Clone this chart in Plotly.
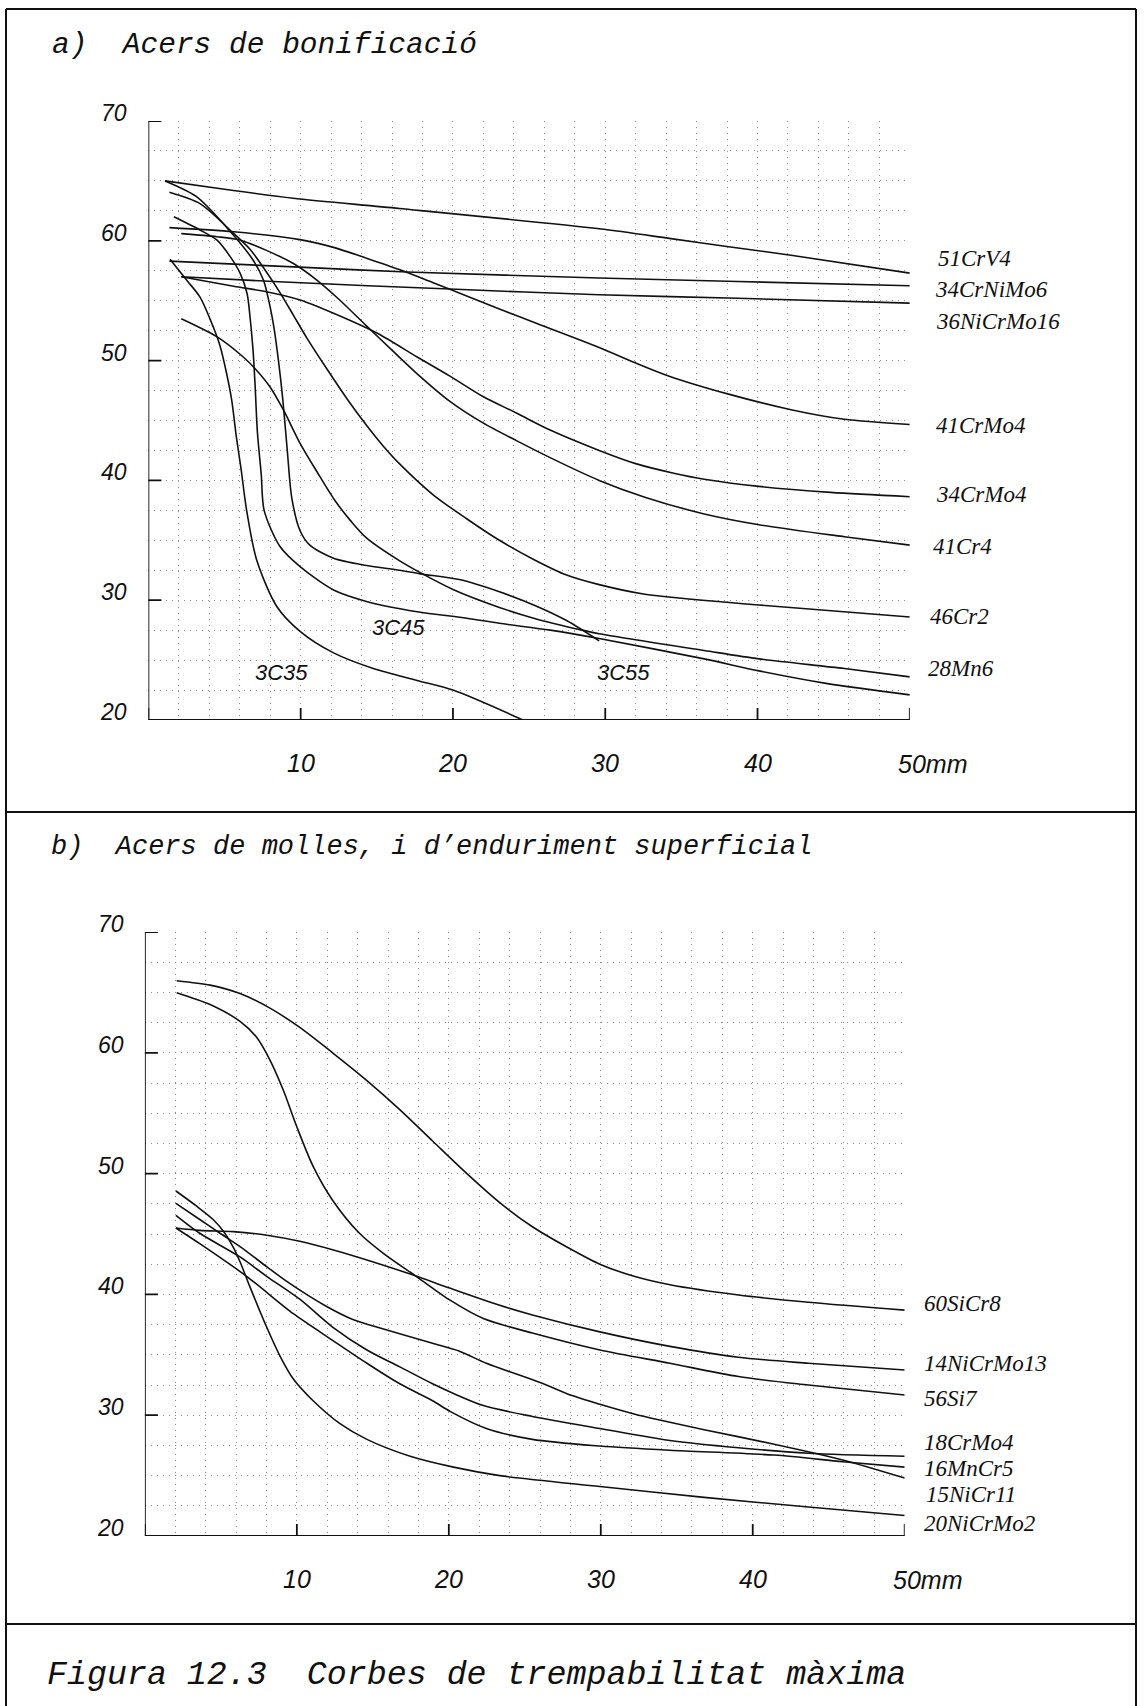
import plotly.graph_objects as go

W, H = 1145, 1706

# ---------------- panel a: Acers de bonificació (x = distance mm, y = HRC) ----------------
a_51CrV4_x = [1.09, 5.0, 9.5, 16.48, 29.6, 34.2, 38.1, 42.2, 50.0]
a_51CrV4_y = [65.0, 64.3, 63.55, 62.7, 61.0, 60.2, 59.5, 58.8, 57.3]

a_34CrNiMo6_x = [1.38, 9.9, 17.0, 29.6, 38.7, 50.0]
a_34CrNiMo6_y = [58.3, 57.8, 57.4, 56.9, 56.6, 56.25]

a_36NiCrMo16_x = [2.16, 8.2, 20.2, 29.6, 38.7, 50.0]
a_36NiCrMo16_y = [57.0, 56.6, 55.95, 55.5, 55.2, 54.8]

a_41CrMo4_x = [1.38, 5.6, 9.96, 12.16, 14.32, 16.48, 18.7, 20.9, 23.05, 25.3, 29.6, 32.0, 34.2, 38.1, 42.2, 45.7, 50.0]
a_41CrMo4_y = [61.1, 60.75, 60.1, 59.45, 58.55, 57.6, 56.5, 55.4, 54.3, 53.2, 51.1, 49.8, 48.7, 47.2, 45.9, 45.1, 44.67]

a_34CrMo4_x = [2.16, 5.6, 7.75, 9.96, 12.16, 15.0, 17.65, 19.8, 21.97, 24.2, 26.38, 29.6, 32.0, 34.5, 36.5, 40.1, 44.8, 50.0]
a_34CrMo4_y = [57.0, 56.2, 55.75, 55.06, 53.95, 52.3, 50.3, 48.7, 47.0, 45.6, 44.2, 42.5, 41.4, 40.6, 40.1, 39.5, 39.0, 38.64]

a_41Cr4_x = [2.16, 4.5, 5.99, 7.75, 9.52, 11.08, 12.56, 14.32, 15.89, 17.65, 19.8, 21.97, 24.2, 26.38, 29.6, 32.6, 36.5, 40.1, 45.7, 50.0]
a_41Cr4_y = [60.6, 60.34, 60.07, 59.2, 58.1, 56.7, 55.06, 52.9, 51.0, 48.9, 46.6, 44.8, 43.3, 41.9, 40.0, 38.6, 37.2, 36.3, 35.3, 34.6]

a_46Cr2_x = [1.38, 3.39, 5.36, 6.67, 7.75, 8.63, 9.52, 10.4, 11.67, 13.05, 14.32, 15.4, 16.48, 18.7, 20.9, 23.05, 25.3, 27.46, 29.6, 32.6, 40.1, 50.0]
a_46Cr2_y = [64.05, 63.1, 60.9, 59.3, 57.4, 55.7, 53.8, 51.9, 49.4, 46.8, 44.6, 42.9, 41.4, 38.8, 36.8, 35.0, 33.4, 32.1, 31.3, 30.5, 29.6, 28.6]

a_28Mn6_x = [2.16, 4.49, 6.23, 7.1, 7.99, 8.86, 9.96, 11.08, 12.26, 13.3, 14.32, 16.48, 17.85, 20.0, 23.05, 25.3, 28.5, 29.6, 36.5, 40.1, 45.7, 50.0]
a_28Mn6_y = [53.5, 52.0, 50.3, 49.2, 47.8, 45.9, 43.1, 40.7, 38.3, 36.6, 35.2, 33.3, 32.3, 30.9, 29.4, 28.5, 27.5, 27.2, 25.8, 25.1, 24.3, 23.6]

a_3C55_x = [1.09, 3.14, 5.36, 6.87, 7.56, 7.99, 8.24, 8.54, 8.83, 9.12, 9.42, 9.96, 10.6, 12.16, 14.32, 16.48, 17.85, 20.5, 23.05, 25.3, 27.46, 29.6]
a_3C55_y = [65.0, 63.7, 60.8, 58.4, 56.7, 54.5, 52.8, 50.0, 46.7, 42.5, 38.5, 35.8, 34.6, 33.5, 32.9, 32.5, 32.2, 31.7, 30.7, 29.6, 28.3, 26.6]

a_3C45_x = [1.67, 3.39, 4.49, 5.36, 6.02, 6.48, 6.67, 6.87, 7.0, 7.16, 7.41, 7.6, 8.63, 9.96, 12.16, 14.32, 17.65, 20.9, 23.05, 26.38, 29.6, 36.5, 40.1, 44.5, 50.0]
a_3C45_y = [62.0, 60.9, 60.07, 58.7, 57.3, 55.6, 53.7, 50.9, 48.1, 44.0, 40.5, 37.5, 34.5, 32.8, 30.85, 29.9, 29.04, 28.5, 28.07, 27.5, 26.8, 25.1, 24.1, 23.06, 22.1]

a_3C35_x = [1.42, 2.52, 3.39, 4.26, 4.71, 5.14, 5.47, 5.79, 6.08, 6.45, 7.1, 8.42, 9.96, 12.16, 14.77, 17.65, 20.0, 24.6]
a_3C35_y = [58.45, 56.7, 55.3, 52.8, 51.2, 48.9, 46.7, 43.5, 41.0, 37.5, 33.4, 29.5, 27.4, 25.6, 24.3, 23.3, 22.5, 20.0]

a_label_names = ["51CrV4", "34CrNiMo6", "36NiCrMo16", "41CrMo4", "34CrMo4", "41Cr4", "46Cr2", "28Mn6"]
a_label_y = [58.5, 55.9, 53.25, 44.6, 38.8, 34.5, 28.6, 24.3]
a_inline_names = ["3C35", "3C45", "3C55"]
a_inline_x = [8.75, 16.4, 31.2]
a_inline_y = [24.0, 27.7, 24.0]

# ---------------- panel b: Acers de molles, i d'enduriment superficial ----------------
b_60SiCr8_x = [2.09, 4.29, 6.26, 8.23, 10.19, 12.35, 14.61, 16.77, 18.93, 21.19, 23.35, 25.5, 27.8, 29.94, 32.19, 34.55, 39.06, 43.66, 50.0]
b_60SiCr8_y = [65.97, 65.6, 64.9, 63.7, 62.1, 60.0, 57.7, 55.3, 52.7, 50.0, 47.6, 45.6, 43.9, 42.5, 41.5, 40.8, 39.95, 39.35, 38.7]

b_56Si7_x = [2.09, 4.29, 6.26, 7.34, 8.23, 9.11, 9.99, 11.07, 12.35, 14.12, 15.69, 17.85, 20.11, 22.27, 25.5, 29.94, 34.55, 39.06, 43.66, 50.0]
b_56Si7_y = [64.98, 64.0, 62.6, 61.3, 59.4, 56.9, 53.9, 50.6, 47.8, 45.06, 43.4, 41.5, 39.5, 38.0, 36.8, 35.4, 34.3, 33.2, 32.5, 31.67]

b_14NiCrMo13_x = [2.04, 3.61, 5.82, 8.03, 10.19, 12.35, 14.61, 17.66, 20.11, 23.35, 25.5, 29.94, 34.55, 39.06, 43.66, 50.0]
b_14NiCrMo13_y = [45.5, 45.3, 45.2, 44.9, 44.4, 43.7, 42.85, 41.6, 40.5, 39.1, 38.3, 36.9, 35.7, 34.8, 34.3, 33.74]

b_20NiCrMo2_x = [2.04, 3.41, 4.49, 5.18, 5.82, 6.26, 6.92, 8.01, 8.89, 9.77, 11.07, 12.84, 14.61, 17.46, 20.31, 23.35, 29.94, 36.8, 43.66, 50.0]
b_20NiCrMo2_y = [48.56, 47.3, 46.2, 45.2, 43.9, 42.7, 40.6, 37.3, 34.9, 33.0, 31.2, 29.3, 28.0, 26.6, 25.7, 25.0, 24.1, 23.2, 22.4, 21.7]

b_15NiCr11_x = [2.04, 3.61, 4.94, 6.26, 8.01, 9.31, 11.96, 13.73, 15.25, 18.93, 20.7, 22.47, 26.01, 28.17, 29.94, 32.19, 36.8, 41.41, 45.92, 50.0]
b_15NiCr11_y = [47.54, 46.2, 45.06, 43.95, 42.3, 41.1, 39.0, 37.9, 37.3, 35.95, 35.3, 34.3, 32.7, 31.6, 30.9, 30.1, 28.8, 27.6, 26.3, 24.8]

b_18CrMo4_x = [2.04, 3.61, 6.26, 8.01, 10.19, 12.35, 14.61, 16.77, 18.93, 20.31, 22.27, 25.5, 29.94, 34.55, 39.06, 43.66, 50.0]
b_18CrMo4_y = [46.55, 45.06, 43.1, 41.5, 39.6, 37.3, 35.4, 34.0, 32.6, 31.8, 30.8, 29.9, 28.9, 27.9, 27.3, 26.85, 26.6]

b_16MnCr5_x = [2.04, 3.61, 6.69, 9.77, 12.35, 14.61, 16.77, 18.93, 20.11, 22.47, 25.5, 29.94, 34.55, 41.41, 45.92, 50.0]
b_16MnCr5_y = [45.5, 44.2, 41.5, 38.4, 36.2, 34.3, 32.6, 31.2, 30.3, 28.9, 28.0, 27.45, 27.1, 26.7, 26.15, 25.7]

b_label_names = ["60SiCr8", "14NiCrMo13", "56Si7", "18CrMo4", "16MnCr5", "15NiCr11", "20NiCrMo2"]
b_label_y = [39.26, 34.3, 31.4, 27.7, 25.6, 23.4, 21.05]

# ---------------- axes ticks / texts ----------------
y_tick_vals = [20, 30, 40, 50, 60, 70]
x_tick_vals = [10, 20, 30, 40, 50]
x_tick_text = ["10", "20", "30", "40", "50mm"]
x_tick_marks = [0, 10, 20, 30, 40, 50]

title_a = "a)\u00a0\u00a0Acers de bonificació"
title_b = "b)\u00a0\u00a0Acers de molles, i d’enduriment superficial"
caption = "Figura 12.3\u00a0\u00a0Corbes de trempabilitat màxima"

panel_a_series = [
    (a_51CrV4_x, a_51CrV4_y, "51CrV4"), (a_34CrNiMo6_x, a_34CrNiMo6_y, "34CrNiMo6"),
    (a_36NiCrMo16_x, a_36NiCrMo16_y, "36NiCrMo16"), (a_41CrMo4_x, a_41CrMo4_y, "41CrMo4"),
    (a_34CrMo4_x, a_34CrMo4_y, "34CrMo4"), (a_41Cr4_x, a_41Cr4_y, "41Cr4"),
    (a_46Cr2_x, a_46Cr2_y, "46Cr2"), (a_28Mn6_x, a_28Mn6_y, "28Mn6"),
    (a_3C55_x, a_3C55_y, "3C55"), (a_3C45_x, a_3C45_y, "3C45"), (a_3C35_x, a_3C35_y, "3C35"),
]
panel_b_series = [
    (b_60SiCr8_x, b_60SiCr8_y, "60SiCr8"), (b_56Si7_x, b_56Si7_y, "56Si7"),
    (b_14NiCrMo13_x, b_14NiCrMo13_y, "14NiCrMo13"), (b_20NiCrMo2_x, b_20NiCrMo2_y, "20NiCrMo2"),
    (b_15NiCr11_x, b_15NiCr11_y, "15NiCr11"), (b_18CrMo4_x, b_18CrMo4_y, "18CrMo4"),
    (b_16MnCr5_x, b_16MnCr5_y, "16MnCr5"),
]

# ---------------- styles / placement ----------------
INK = "#111111"
MONO = "Liberation Mono"
TICK_FONT = dict(family="Liberation Sans", size=23, color=INK, style="italic")
XTICK_FONT = dict(family="Liberation Sans", size=25, color=INK, style="italic")
LABEL_FONT = dict(family="Liberation Serif", size=23, color=INK, style="italic")
INLINE_FONT = dict(family="Liberation Sans", size=22, color=INK, style="italic")
a_label_dx = [26, 23, 24, 24, 24, 21, 18, 16]
b_label_dx = [17, 17, 17, 17, 17, 19, 17]


def px(xp):
    return xp / W


def py(yp):
    return 1 - yp / H


fig = go.Figure()
LINE = dict(color=INK, width=1.6, shape="spline", smoothing=0.8)
for xs, ys, nm in panel_a_series:
    fig.add_trace(go.Scatter(x=xs, y=ys, name=nm, mode="lines", xaxis="x", yaxis="y",
                             line=LINE, hoverinfo="skip", showlegend=False))
for xs, ys, nm in panel_b_series:
    fig.add_trace(go.Scatter(x=xs, y=ys, name=nm, mode="lines", xaxis="x2", yaxis="y2",
                             line=LINE, hoverinfo="skip", showlegend=False))

grid = dict(showgrid=True, gridcolor="#8c8c8c", gridwidth=1, griddash="1px,5px",
            showticklabels=False, ticks="", zeroline=False, showline=False, fixedrange=True)

fig.update_layout(
    width=W, height=H, autosize=False,
    margin=dict(l=0, r=0, t=0, b=0),
    paper_bgcolor="white", plot_bgcolor="white",
    xaxis=dict(domain=[px(148.4), px(909.8)], range=[0, 50], tick0=0, dtick=2, anchor="y", **grid),
    yaxis=dict(domain=[py(720), py(121)], range=[20, 70], tick0=20, dtick=2.5, anchor="x", **grid),
    xaxis2=dict(domain=[px(144.9), px(904.7)], range=[0, 50], tick0=0, dtick=2, anchor="y2", **grid),
    yaxis2=dict(domain=[py(1536), py(932)], range=[20, 70], tick0=20, dtick=2.5, anchor="x2", **grid),
)

shapes = []
annotations = []
AX_W = 1.8
for xr, yr in (("x", "y"), ("x2", "y2")):
    shapes.append(dict(type="line", xref=xr, yref=yr, x0=0, x1=0, y0=20, y1=70,
                       line=dict(color=INK, width=AX_W)))
    shapes.append(dict(type="line", xref=xr, yref=yr, x0=0, x1=50, y0=20, y1=20,
                       line=dict(color=INK, width=AX_W)))
    for v in y_tick_vals:
        shapes.append(dict(type="line", xref=xr, yref=yr, xsizemode="pixel", xanchor=0,
                           x0=-12, x1=13, y0=v, y1=v, line=dict(color=INK, width=AX_W)))
        annotations.append(dict(xref=xr, yref=yr, x=0, y=v, text=str(v), showarrow=False,
                                xanchor="right", yanchor="middle", xshift=-19, yshift=8,
                                font=TICK_FONT))
    for v in x_tick_marks:
        shapes.append(dict(type="line", xref=xr, yref=yr, ysizemode="pixel", yanchor=20,
                           y0=-13, y1=12, x0=v, x1=v, line=dict(color=INK, width=AX_W)))
    for v, t in zip(x_tick_vals, x_tick_text):
        if t.endswith("mm"):
            annotations.append(dict(xref=xr, yref=yr, x=v, y=20, text=t, showarrow=False,
                                    xanchor="left", yanchor="middle", xshift=-14, yshift=-44,
                                    font=XTICK_FONT))
        else:
            annotations.append(dict(xref=xr, yref=yr, x=v, y=20, text=t, showarrow=False,
                                    xanchor="center", yanchor="middle", yshift=-43,
                                    font=XTICK_FONT))

for nm, yv, dx in zip(a_label_names, a_label_y, a_label_dx):
    annotations.append(dict(xref="x", yref="y", x=50, y=yv, text=nm, showarrow=False,
                            xanchor="left", yanchor="middle", xshift=dx, font=LABEL_FONT))
for nm, xv, yv in zip(a_inline_names, a_inline_x, a_inline_y):
    annotations.append(dict(xref="x", yref="y", x=xv, y=yv, text=nm, showarrow=False,
                            xanchor="center", yanchor="middle", font=INLINE_FONT))
for nm, yv, dx in zip(b_label_names, b_label_y, b_label_dx):
    annotations.append(dict(xref="x2", yref="y2", x=50, y=yv, text=nm, showarrow=False,
                            xanchor="left", yanchor="middle", xshift=dx, font=LABEL_FONT))

# titles and caption
annotations.append(dict(xref="paper", yref="paper", x=px(50), y=py(45), text=title_a,
                        showarrow=False, xanchor="left", yanchor="middle",
                        font=dict(family=MONO, size=29.5, color=INK, style="italic")))
annotations.append(dict(xref="paper", yref="paper", x=px(48.5), y=py(847), text=title_b,
                        showarrow=False, xanchor="left", yanchor="middle",
                        font=dict(family=MONO, size=27.0, color=INK, style="italic")))
annotations.append(dict(xref="paper", yref="paper", x=px(45), y=py(1675), text=caption,
                        showarrow=False, xanchor="left", yanchor="middle",
                        font=dict(family=MONO, size=33.3, color=INK, style="italic")))

# panel frame
FR = dict(color=INK, width=2)
L, R, T = 6, 1136, 9
shapes.append(dict(type="line", xref="paper", yref="paper", x0=px(L), x1=px(L), y0=py(T), y1=0, line=FR))
shapes.append(dict(type="line", xref="paper", yref="paper", x0=px(R), x1=px(R), y0=py(T), y1=0, line=FR))
for yy in (T, 812, 1624):
    shapes.append(dict(type="line", xref="paper", yref="paper", x0=px(L), x1=px(R), y0=py(yy), y1=py(yy), line=FR))

fig.update_layout(shapes=shapes, annotations=annotations)
fig.write_html("out.html", config={"displayModeBar": False, "staticPlot": True},
               post_script="document.body.style.margin='0';document.body.style.padding='0';"
                           "document.body.style.overflow='hidden';")
